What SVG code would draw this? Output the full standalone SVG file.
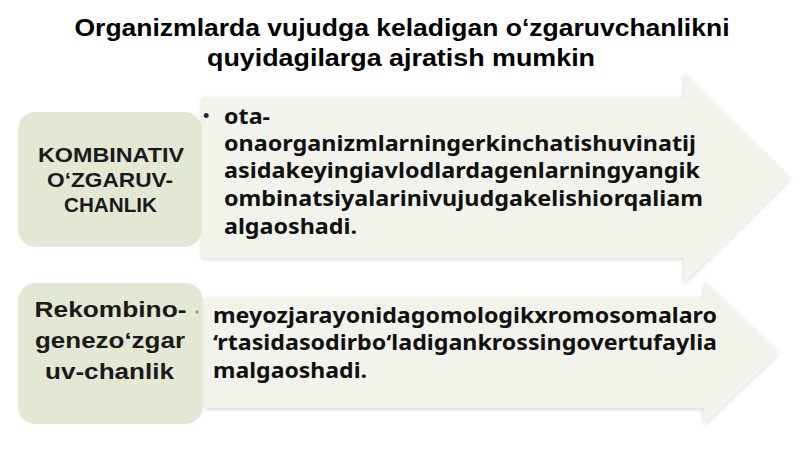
<svg xmlns="http://www.w3.org/2000/svg" width="800" height="450" viewBox="0 0 800 450">
<defs>
<filter id="sh" x="-10%" y="-10%" width="120%" height="120%">
<feGaussianBlur in="SourceAlpha" stdDeviation="2.5"/>
<feOffset dx="0" dy="1" result="b"/>
<feComponentTransfer><feFuncA type="linear" slope="0.18"/></feComponentTransfer>
<feMerge><feMergeNode/><feMergeNode in="SourceGraphic"/></feMerge>
</filter>
</defs>
<style>
.title{font-family:"Liberation Sans",Arial,sans-serif;font-weight:bold;font-size:23px;fill:#000;text-anchor:middle}
.lab{font-family:"Liberation Sans",Arial,sans-serif;font-weight:bold;fill:#1a1a1a;text-anchor:middle}
.body{font-family:"Noto Sans","Open Sans",sans-serif;font-weight:bold;font-size:21.5px;fill:#111}
.arrow{fill:#f2f4eb;filter:url(#sh)}
.box{fill:#e2e8d3}
</style>
<rect width="800" height="450" fill="#ffffff"/>
<g id="title">
<text class="title" x="402" y="36" textLength="655" lengthAdjust="spacingAndGlyphs">Organizmlarda vujudga keladigan o‘zgaruvchanlikni</text>
<text class="title" x="401" y="66" textLength="388" lengthAdjust="spacingAndGlyphs">quyidagilarga ajratish mumkin</text>
</g>
<g id="connectors">
<path id="arrow1" class="arrow" d="M202,98 H684 V73 L790,178 L684,283 V258 H202 Z"/>
<path id="arrow2" class="arrow" d="M205,298 H704 V282 L778,353 L704,424 V408 H205 Z"/>
</g>
<g id="node-kombinativ">
<rect class="box" x="18" y="112" width="184" height="135" rx="18"/>
<text class="lab" font-size="20.5" x="111" y="162" textLength="146" lengthAdjust="spacingAndGlyphs">KOMBINATIV</text>
<text class="lab" font-size="20.5" x="110" y="187" textLength="126" lengthAdjust="spacingAndGlyphs">O‘ZGARUV-</text>
<text class="lab" font-size="20.5" x="110.5" y="212" textLength="93" lengthAdjust="spacingAndGlyphs">CHANLIK</text>
</g>
<g id="node-rekombinogenez">
<rect class="box" x="18" y="283" width="185" height="141" rx="18"/>
<text class="lab" font-size="22.5" x="110.5" y="317" textLength="152" lengthAdjust="spacingAndGlyphs">Rekombino-</text>
<text class="lab" font-size="22.5" x="110" y="348" textLength="150" lengthAdjust="spacingAndGlyphs">genezo‘zgar</text>
<text class="lab" font-size="22.5" x="109.5" y="379" textLength="129" lengthAdjust="spacingAndGlyphs">uv-chanlik</text>
</g>
<g id="text-kombinativ">
<text x="203" y="122" font-family="'Liberation Sans',Arial,sans-serif" font-size="18" fill="#222">•</text>
<text class="body" x="224" y="124" textLength="46" lengthAdjust="spacingAndGlyphs">ota-</text>
<text class="body" x="224" y="151" textLength="472" lengthAdjust="spacingAndGlyphs">onaorganizmlarningerkinchatishuvinatij</text>
<text class="body" x="224" y="178" textLength="476" lengthAdjust="spacingAndGlyphs">asidakeyingiavlodlardagenlarningyangik</text>
<text class="body" x="224" y="206" textLength="479" lengthAdjust="spacingAndGlyphs">ombinatsiyalarinivujudgakelishiorqaliam</text>
<text class="body" x="224" y="234" textLength="133" lengthAdjust="spacingAndGlyphs">algaoshadi.</text>
</g>
<g id="text-rekombinogenez">
<circle cx="197" cy="312" r="1.8" fill="#9aa39a"/>
<text class="body" x="213" y="323" textLength="504" lengthAdjust="spacingAndGlyphs">meyozjarayonidagomologikxromosomalaro</text>
<text class="body" x="213" y="350" textLength="504" lengthAdjust="spacingAndGlyphs">‘rtasidasodirbo‘ladigankrossingovertufaylia</text>
<text class="body" x="213" y="378" textLength="154" lengthAdjust="spacingAndGlyphs">malgaoshadi.</text>
</g>
</svg>
